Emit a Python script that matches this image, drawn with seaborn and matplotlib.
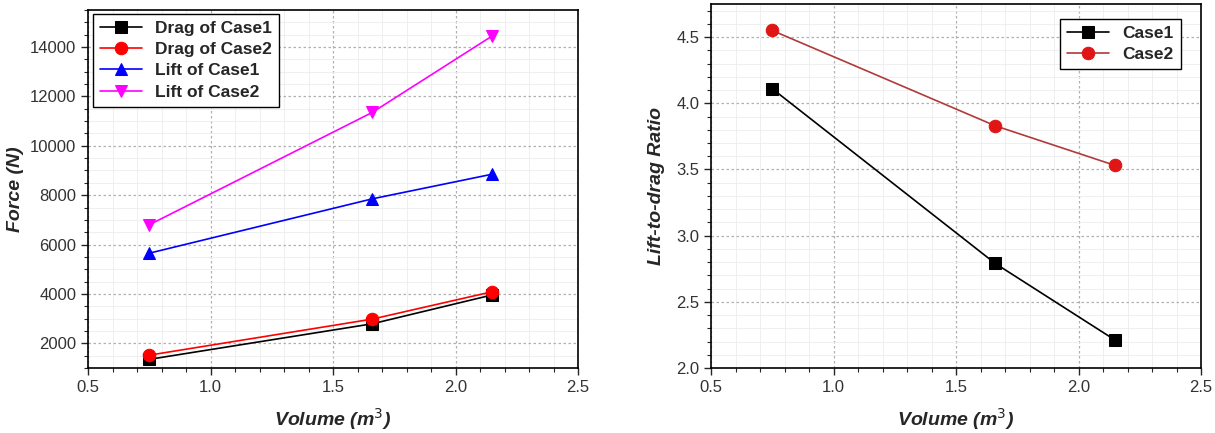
import matplotlib
matplotlib.use("Agg")
import matplotlib.pyplot as plt
import seaborn as sns
import pandas as pd
from matplotlib.ticker import MultipleLocator, FormatStrFormatter

volume = [0.75, 1.66, 2.15]
drag_case1 = [1350, 2790, 3960]
drag_case2 = [1520, 2980, 4090]
lift_case1 = [5650, 7850, 8850]
lift_case2 = [6800, 11350, 14450]
ratio_case1 = [4.11, 2.79, 2.21]
ratio_case2 = [4.55, 3.83, 3.53]

force_labels = ["Drag of Case1", "Drag of Case2", "Lift of Case1", "Lift of Case2"]
ratio_labels = ["Case1", "Case2"]

sns.set_theme(style="white")
plt.rcParams['font.family'] = ['Liberation Sans', 'DejaVu Sans']

fig = plt.figure(figsize=(12.15, 4.33), dpi=100)
W, H = 1215, 433
ax1 = fig.add_axes([88/W, (H-368)/H, (578-88)/W, (368-10)/H])
ax2 = fig.add_axes([711/W, (H-368)/H, (1201-711)/W, (368-4)/H])

force_series = [drag_case1, drag_case2, lift_case1, lift_case2]
force_colors = ["#000000", "#ff0000", "#0000ff", "#ff00ff"]
force_markers = ["s", "o", "^", "v"]
for lab, vals, c, m in zip(force_labels, force_series, force_colors, force_markers):
    df = pd.DataFrame({"x": volume, "y": vals})
    sns.lineplot(data=df, x="x", y="y", ax=ax1, color=c, marker=m, markersize=9,
                 markeredgecolor=c, linewidth=1.2, label=lab)

ratio_series = [ratio_case1, ratio_case2]
ratio_line_colors = ["#000000", "#b03a3a"]
ratio_marker_colors = ["#000000", "#e01515"]
ratio_markers = ["s", "o"]
for lab, vals, lc, mc, m in zip(ratio_labels, ratio_series, ratio_line_colors, ratio_marker_colors, ratio_markers):
    df = pd.DataFrame({"x": volume, "y": vals})
    sns.lineplot(data=df, x="x", y="y", ax=ax2, color=lc, marker=m, markersize=9,
                 markerfacecolor=mc, markeredgecolor=mc, linewidth=1.2, label=lab)

def style(ax, ylabel, ymaj, ymin, ylabelpad):
    ax.set_xlim(0.5, 2.5)
    ax.xaxis.set_major_locator(MultipleLocator(0.5))
    ax.xaxis.set_minor_locator(MultipleLocator(0.1))
    ax.yaxis.set_major_locator(MultipleLocator(ymaj))
    ax.yaxis.set_minor_locator(MultipleLocator(ymin))
    ax.grid(True, which="major", color="#b0b0b0", linestyle=(0, (2, 2)), linewidth=0.9)
    ax.grid(True, which="minor", color="#ededed", linestyle="-", linewidth=0.6)
    ax.set_axisbelow(True)
    for s in ax.spines.values():
        s.set_visible(True)
        s.set_color("black")
        s.set_linewidth(1.2)
    ax.tick_params(axis="both", which="major", direction="out", length=5, width=1,
                   labelsize=12, labelcolor="#333333", bottom=True, left=True)
    ax.tick_params(axis="both", which="minor", direction="out", length=3, width=0.8,
                   bottom=True, left=True)
    ax.set_xlabel("Volume (m$^3$)", fontsize=14, fontweight="bold", fontstyle="italic", labelpad=8)
    ax.set_ylabel(ylabel, fontsize=14, fontweight="bold", fontstyle="italic", labelpad=ylabelpad)

style(ax1, "Force (N)", 2000, 500, 4)
ax1.set_ylim(1000, 15500)
style(ax2, "Lift-to-drag Ratio", 0.5, 0.1, 8)
ax2.set_ylim(2.0, 4.75)
ax2.yaxis.set_major_formatter(FormatStrFormatter("%.1f"))

leg1 = ax1.legend(loc="upper left", fancybox=False, edgecolor="black", framealpha=1,
                  prop={"weight": "bold", "size": 12.5}, handlelength=2.4,
                  borderaxespad=0.0, labelspacing=0.35, bbox_to_anchor=(0.01, 0.989))
leg2 = ax2.legend(loc="upper right", fancybox=False, edgecolor="black", framealpha=1,
                  prop={"weight": "bold", "size": 12.5}, handlelength=2.4,
                  borderaxespad=0.0, labelspacing=0.35, bbox_to_anchor=(0.959, 0.959))
for lg in (leg1, leg2):
    lg.get_frame().set_linewidth(1.0)

fig.savefig("out.png", dpi=100)
